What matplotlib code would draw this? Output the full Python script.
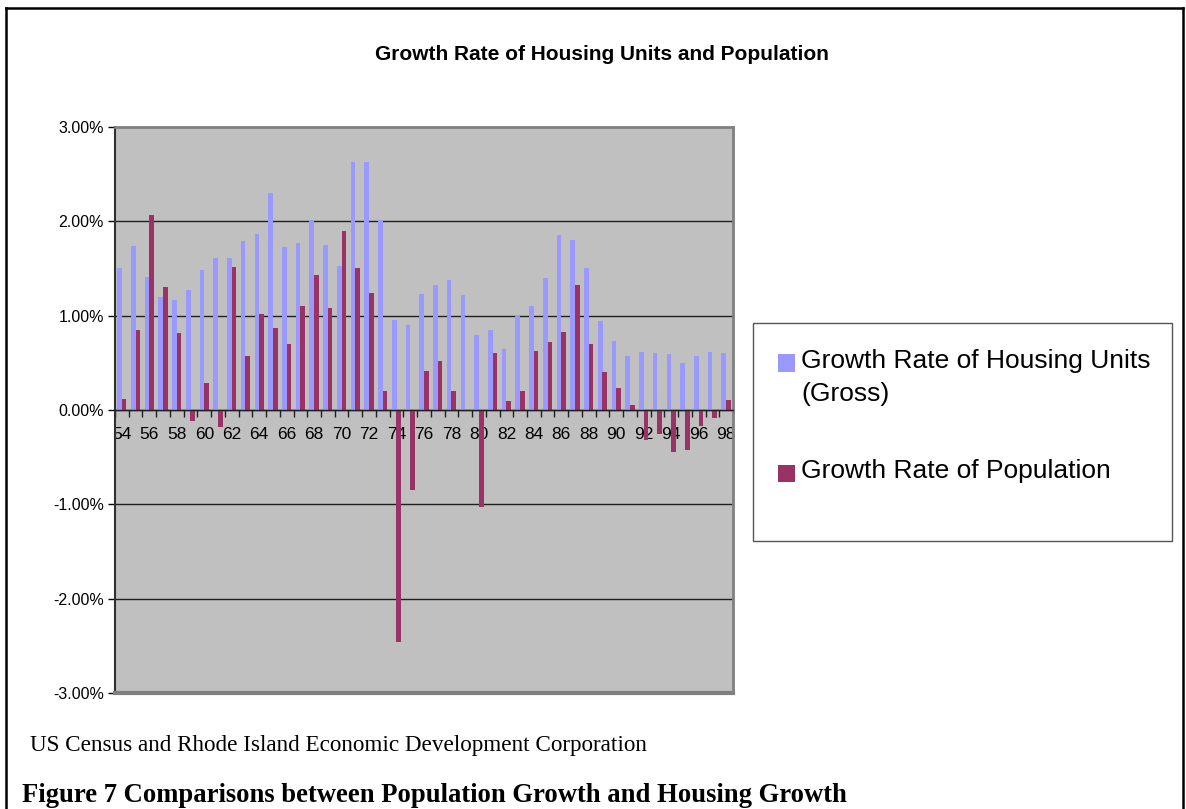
import matplotlib
matplotlib.use("Agg")
import matplotlib.pyplot as plt
from matplotlib.lines import Line2D
from matplotlib.patches import Rectangle
from matplotlib.ticker import FuncFormatter, FixedLocator
import numpy as np

# years 1954 - 1998, growth rates in percent
years = [str(y) for y in range(54, 99)]

housing = [1.51, 1.74, 1.41, 1.20, 1.17, 1.27, 1.48, 1.61, 1.61, 1.79,
           1.87, 2.30, 1.73, 1.77, 2.01, 1.75, 1.53, 2.63, 2.63, 2.01,
           0.95, 0.90, 1.23, 1.33, 1.38, 1.22, 0.80, 0.85, 0.65, 1.01,
           1.10, 1.40, 1.85, 1.80, 1.51, 0.94, 0.73, 0.57, 0.62, 0.60,
           0.59, 0.50, 0.57, 0.62, 0.60]

population = [0.12, 0.85, 2.07, 1.30, 0.82, -0.12, 0.29, -0.18, 1.52, 0.57,
              1.02, 0.87, 0.70, 1.10, 1.43, 1.08, 1.90, 1.51, 1.24, 0.20,
              -2.46, -0.85, 0.41, 0.52, 0.20, 0.0, -1.03, 0.60, 0.10, 0.20,
              0.63, 0.72, 0.83, 1.33, 0.70, 0.40, 0.23, 0.05, -0.32, -0.25,
              -0.44, -0.42, -0.17, -0.09, 0.11]

labels = ["Growth Rate of Housing Units\n(Gross)", "Growth Rate of Population"]
yticks = [-3, -2, -1, 0, 1, 2, 3]

BLUE = "#9999FF"
RED = "#993366"
W, H = 1186, 809

fig = plt.figure(figsize=(W / 100, H / 100), dpi=100)
fig.patch.set_facecolor("white")

def fx(px):
    return px / W

def fy(py):
    return 1 - py / H

# outer frame of the page figure
for xs, ys in [((6, 1183), (8, 8)), ((6, 6), (8, 809)), ((1183, 1183), (8, 809))]:
    fig.add_artist(Line2D([fx(xs[0]), fx(xs[1])], [fy(ys[0]), fy(ys[1])],
                          color="black", lw=1.8, transform=fig.transFigure))

ax = fig.add_axes([fx(115), fy(693), fx(733) - fx(115), fy(127) - fy(693)])
ax.set_facecolor("#C0C0C0")

x = np.arange(len(years))
bw = 0.34
ax.bar(x - 0.17, housing, width=bw, color=BLUE, zorder=3)
ax.bar(x + 0.165, population, width=bw, color=RED, zorder=3)

ax.set_xlim(-0.5, len(years) - 0.5)
ax.set_ylim(-3, 3)

ax.yaxis.set_major_locator(FixedLocator(yticks))
ax.yaxis.set_major_formatter(FuncFormatter(lambda v, p: "%.2f%%" % v))
for v in yticks[1:-1]:
    ax.axhline(v, color="#202020", lw=1.0, zorder=1)

ax.spines["bottom"].set_position(("data", 0))
ax.spines["bottom"].set_color("#202020")
ax.spines["bottom"].set_linewidth(1.0)
ax.spines["bottom"].set_zorder(4)
ax.spines["left"].set_color("#303030")
ax.spines["left"].set_linewidth(1.5)
for s in ["top", "right"]:
    ax.spines[s].set_color("#808080")
    ax.spines[s].set_linewidth(2)
ax.axhline(-3, color="#808080", lw=3, zorder=5, clip_on=False)

ax.set_xticks(np.arange(len(years) + 1) - 0.5)
ax.set_xticklabels([])
ax.set_xticks(x[::2], minor=True)
ax.set_xticklabels(years[::2], minor=True)
ax.tick_params(axis="x", which="major", direction="out", length=5, width=1, color="#202020")
ax.tick_params(axis="x", which="minor", length=0, pad=12, labelsize=12.5)
ax.tick_params(axis="y", direction="out", length=5, width=1, labelsize=11.5, pad=3)
for t in ax.get_xticklabels(minor=True) + ax.get_yticklabels():
    t.set_fontfamily("Liberation Sans")

fig.text(fx(602), fy(54), "Growth Rate of Housing Units and Population",
         ha="center", va="center", fontsize=15, fontweight="bold",
         family="Liberation Sans")

# legend box
fig.add_artist(Rectangle((fx(753), fy(541)), fx(1172) - fx(753), fy(323) - fy(541),
                         transform=fig.transFigure, facecolor="white",
                         edgecolor="#555555", lw=1))
for col, lab, yy in [(BLUE, labels[0], 363), (RED, labels[1], 473)]:
    fig.add_artist(Rectangle((fx(778), fy(yy + 8.5)), fx(17), 17 / H,
                             transform=fig.transFigure, facecolor=col, edgecolor="none"))
    fig.text(fx(801), fy(yy - 14), lab, ha="left", va="top", fontsize=19,
             family="Liberation Sans", linespacing=1.45)

fig.text(fx(30), fy(746), "US Census and Rhode Island Economic Development Corporation",
         ha="left", va="center", fontsize=16.7, family="Liberation Serif")
fig.text(fx(22), fy(795), "Figure 7 Comparisons between Population Growth and Housing Growth",
         ha="left", va="center", fontsize=19.2, fontweight="bold", family="Liberation Serif")

fig.savefig("out.png", dpi=100)
